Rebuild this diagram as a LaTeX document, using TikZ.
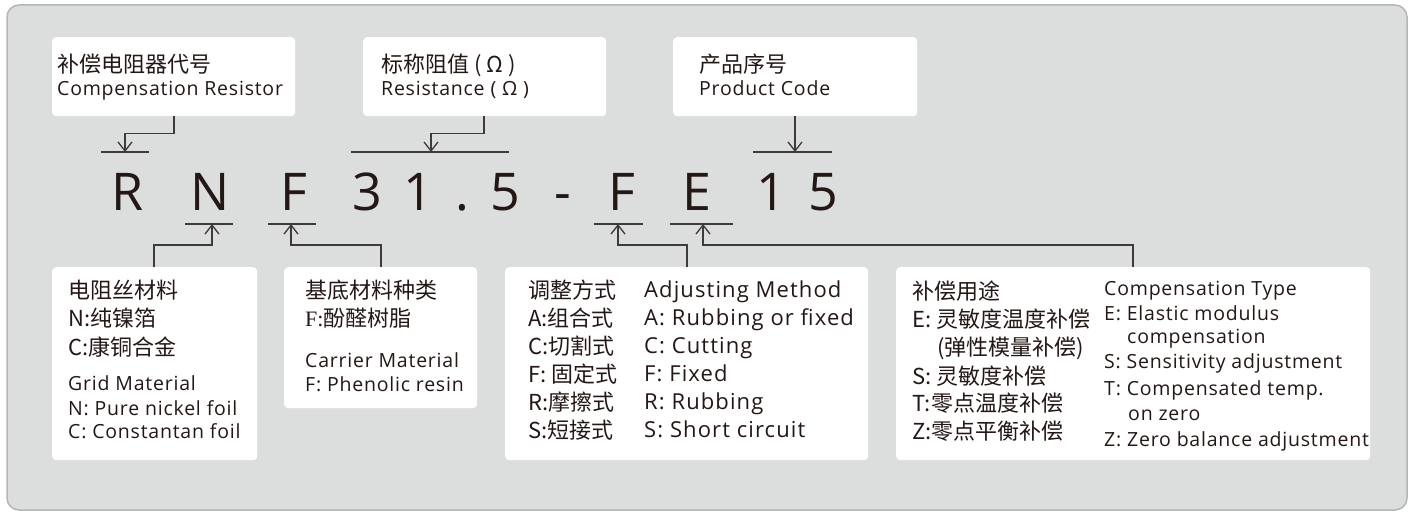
\documentclass[tikz,border=0pt]{standalone}
\usepackage{fontspec}
\setmainfont{Open Sans}
\newfontfamily\cjk{Noto Sans CJK SC}
\newfontfamily\enf[LetterSpace=4]{Open Sans}
\newfontfamily\encf[LetterSpace=5]{Open Sans}
\newfontfamily\serf{Liberation Serif}
\usetikzlibrary{arrows.meta}
\definecolor{bgc}{HTML}{DCDDDD}
\definecolor{bdc}{HTML}{B5B5B5}
\definecolor{ink}{HTML}{231815}
\definecolor{lnc}{HTML}{3E3A39}
\begin{document}
\begin{tikzpicture}[x=1pt,y=-1pt,
  wbox/.style={fill=white, rounded corners=4pt, inner sep=0pt, anchor=north west},
  zh/.style={font=\cjk\fontsize{22}{26}\selectfont, text=ink, inner sep=0pt, anchor=base west},
  en/.style={font=\enf\fontsize{19.5}{22}\selectfont, text=ink, inner sep=0pt, anchor=base west},
  enc/.style={font=\encf\fontsize{22}{24}\selectfont, text=ink, inner sep=0pt, anchor=base west},
  big/.style={font=\fontsize{52}{60}\selectfont, text=ink, inner sep=0pt, anchor=base},
  bar/.style={draw=lnc, line width=1.3pt},
  conn/.style={draw=lnc, line width=1.3pt, -{Straight Barb[length=9pt,width=14pt]}}]
\useasboundingbox (0,0) rectangle (1412,516);
\draw[fill=bgc, draw=bdc, line width=1.5pt, rounded corners=12pt] (7,5) rectangle (1407,510);

% top boxes
\node[wbox, minimum width=243pt, minimum height=79pt] (b1) at (52,37) {};
\node[wbox, minimum width=243pt, minimum height=79pt] (b2) at (363,37) {};
\node[wbox, minimum width=244pt, minimum height=79pt] (b3) at (673,37) {};
\node[zh] (t1a) at (57,73) {补偿电阻器代号};
\node[en] (t1b) at (57,96) {Compensation Resistor};
\node[zh] (t2a) at (381,73) {标称阻值 ( Ω )};
\node[en] (t2b) at (381,96) {Resistance ( Ω )};
\node[zh] (t3a) at (699,73) {产品序号};
\node[en] (t3b) at (699,96) {Product Code};

% big code
\node[big] (cR) at (128,210) {R};
\node[big] (cN) at (210,210) {N};
\node[big] (cF) at (294,210) {F};
\node[big] (c3) at (367,210) {3};
\node[big] (c1) at (418,210) {1};
\node[big] (cd) at (462,210) {.};
\node[big] (c5) at (505,210) {5};
\node[big] (cm) at (563,210) {-};
\node[big] (cF2) at (622,210) {F};
\node[big] (cE) at (697,210) {E};
\node[big] (c1b) at (771,210) {1};
\node[big] (c5b) at (823,210) {5};

% bar points
\coordinate (aR) at (125,152);
\coordinate (aRes) at (431,152);
\coordinate (aP) at (795,152);
\coordinate (aN) at (212,224);
\coordinate (aF1) at (291,224);
\coordinate (aF2) at (618,224);
\coordinate (aE) at (703,224);
\draw[bar] (101,152) -- (149,152);
\draw[bar] (351,152) -- (509,152);
\draw[bar] (753,152) -- (832,152);
\draw[bar] (185,224) -- (233,224);
\draw[bar] (268,224) -- (316,224);
\draw[bar] (594,224) -- (643,224);
\draw[bar] (670,224) -- (733,224);

% bottom boxes
\node[wbox, minimum width=205pt, minimum height=193pt] (bA) at (52,267) {};
\node[wbox, minimum width=193pt, minimum height=141pt] (bB) at (284,267) {};
\node[wbox, minimum width=363pt, minimum height=193pt] (bC) at (505,267) {};
\node[wbox, minimum width=474pt, minimum height=193pt] (bD) at (896,267) {};

% connectors
\coordinate (k1) at (174,0);
\coordinate (k2) at (484,0);
\coordinate (kA) at (154,0);
\coordinate (kB) at (381,0);
\coordinate (kC) at (687,0);
\coordinate (kD) at (1133,0);
\draw[conn] (b1.south -| k1) -- ++(0,17) -| (aR);
\draw[conn] (b2.south -| k2) -- ++(0,17) -| (aRes);
\draw[conn] (b3.south -| aP) -- (aP);
\draw[conn] (bA.north -| kA) -- ++(0,-22) -| (aN);
\draw[conn] (bB.north -| kB) -- ++(0,-22) -| (aF1);
\draw[conn] (bC.north -| kC) -- ++(0,-22) -| (aF2);
\draw[conn] (bD.north -| kD) -- ++(0,-22) -| (aE);

% box A
\node[zh] (A1) at (68,298.5) {电阻丝材料};
\node[zh] (A2) at (68,326.5) {N:纯镍箔};
\node[zh] (A3) at (68,355) {C:康铜合金};
\node[en] (A4) at (68,390) {Grid Material};
\node[en] (A5) at (68,415) {N: Pure nickel foil};
\node[en] (A6) at (68,438) {C: Constantan foil};

% box B
\node[zh] (B1) at (305,298.5) {基底材料种类};
\node[zh] (B2) at (305,326.5) {{\serf F:}酚醛树脂};
\node[en] (B3) at (305,367) {Carrier Material};
\node[en] (B4) at (305,391) {F: Phenolic resin};

% box C
\node[zh] (C1) at (528,298) {调整方式};
\node[zh] (C2) at (528,326) {A:组合式};
\node[zh] (C3) at (528,354) {C:切割式};
\node[zh] (C4) at (528,382) {F: 固定式};
\node[zh] (C5) at (528,410) {R:摩擦式};
\node[zh] (C6) at (528,438) {S:短接式};
\node[enc] (C7) at (644,297) {Adjusting Method};
\node[enc] (C8) at (644,325) {A: Rubbing or fixed};
\node[enc] (C9) at (644,353) {C: Cutting};
\node[enc] (C10) at (644,381) {F: Fixed};
\node[enc] (C11) at (644,409) {R: Rubbing};
\node[enc] (C12) at (644,437) {S: Short circuit};

% box D
\node[zh] (D1) at (912,299) {补偿用途};
\node[zh] (D2) at (912,327) {E: 灵敏度温度补偿};
\node[zh] (D3) at (937,355) {(弹性模量补偿)};
\node[zh] (D4) at (912,384) {S: 灵敏度补偿};
\node[zh] (D5) at (912,411) {T:零点温度补偿};
\node[zh] (D6) at (912,439) {Z:零点平衡补偿};
\node[en] (D7) at (1104,295) {Compensation Type};
\node[en] (D8) at (1104,320) {E: Elastic modulus};
\node[en] (D9) at (1127,343) {compensation};
\node[en] (D10) at (1104,368) {S: Sensitivity adjustment};
\node[en] (D11) at (1104,395) {T: Compensated temp.};
\node[en] (D12) at (1128,420) {on zero};
\node[en] (D13) at (1104,446) {Z: Zero balance adjustment};
\end{tikzpicture}
\end{document}
